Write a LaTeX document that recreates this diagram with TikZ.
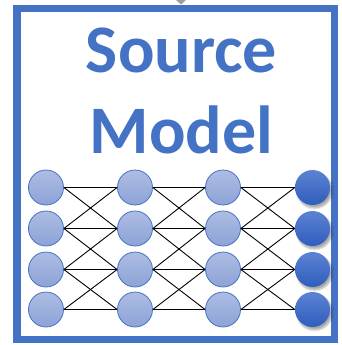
\documentclass[tikz,border=0pt]{standalone}
\usepackage{fontspec}
\setmainfont{Carlito}
\usetikzlibrary{shadows.blur}
\definecolor{mblue}{HTML}{4472C4}
\definecolor{nlight}{HTML}{ADBCE3}
\definecolor{nlightb}{HTML}{8DA3D6}
\definecolor{ndark}{HTML}{5C82D2}
\definecolor{ndarkb}{HTML}{2F5EBE}
\tikzset{
  neuron/.style={circle, minimum size=35pt, inner sep=0pt, draw=mblue, line width=0.8pt,
    top color=nlight, bottom color=nlightb},
  outneuron/.style={circle, minimum size=35pt, inner sep=0pt, draw=none,
    top color=ndark, bottom color=ndarkb,
    blur shadow={shadow xshift=2pt, shadow yshift=-3pt, shadow blur steps=8, shadow opacity=35}},
  link/.style={black, line width=0.9pt},
  title/.style={text=mblue, font=\bfseries\fontsize{68}{83}\selectfont, inner sep=0pt, anchor=base}
}
\begin{document}
\begin{tikzpicture}[x=1pt,y=-1pt]
\useasboundingbox (0,0) rectangle (341,345);
% cropped arrow tip from above
\fill[gray!75] (176,0) -- (186,0) -- (181,4.5) -- cycle;
% frame
\draw[mblue, line width=7.5pt] (16.75,8.75) rectangle (334.5,339.5);
% title
\node[title] (t1) at (181.5,72) {Source};
\node[title] (t2) at (181.5,153) {Model};
% neurons
\foreach \c/\x in {1/46,2/135,3/223}{
  \foreach \r/\y in {1/187.5,2/228.5,3/269.5,4/309.5}{
    \node[neuron] (n\c\r) at (\x,\y) {};
  }
}
\foreach \r/\y in {1/187.5,2/228.5,3/269.5,4/309.5}{
  \node[outneuron] (n4\r) at (312.5,\y) {};
}
% connections
\foreach \c/\d in {1/2,2/3,3/4}{
  \foreach \r in {1,2,3,4}{
    \draw[link] (n\c\r.east) -- (n\d\r.west);
  }
  \foreach \r/\s in {1/2,2/3,3/4}{
    \draw[link] (n\c\r.east) -- (n\d\s.west);
    \draw[link] (n\c\s.east) -- (n\d\r.west);
  }
}
\end{tikzpicture}
\end{document}
